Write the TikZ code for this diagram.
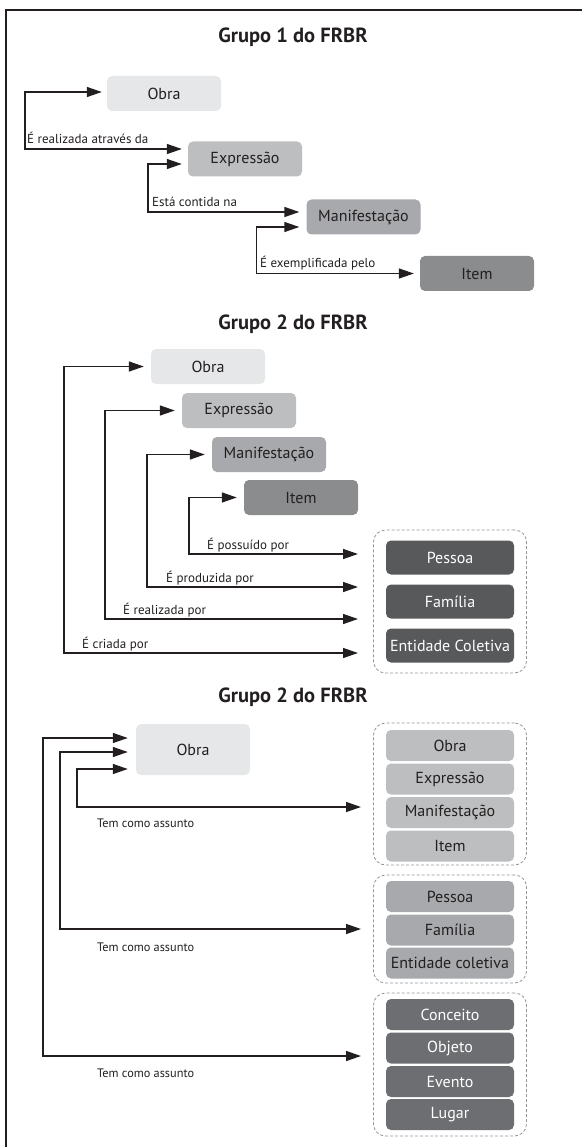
\documentclass[tikz,border=0pt]{standalone}
\usepackage{fontspec}
\setmainfont{PT Sans}
\usetikzlibrary{arrows.meta}

\definecolor{ink}{HTML}{231F20}
\definecolor{obrac}{HTML}{E6E7E8}
\definecolor{exprc}{HTML}{BCBEC0}
\definecolor{manic}{HTML}{A7A9AC}
\definecolor{itemc}{HTML}{8A8C8E}
\definecolor{agentc}{HTML}{58595B}
\definecolor{themec}{HTML}{6D6E71}
\definecolor{dashc}{HTML}{939598}

\tikzset{
  ent/.style={rounded corners=5pt, minimum width=114pt, minimum height=35pt,
    inner sep=0pt, text=ink, font=\fontsize{16}{19}\selectfont},
  sub/.style={rounded corners=5pt, minimum width=128pt, minimum height=31pt,
    inner sep=0pt, text=ink, font=\fontsize{16}{19}\selectfont},
  group/.style={draw=dashc, dash pattern=on 3pt off 2pt, line width=0.8pt,
    rounded corners=12pt, inner sep=0pt, minimum width=153pt},
  link/.style={draw=ink, line width=1.4pt,
    {Triangle[length=15pt,width=10pt]}-{Triangle[length=15pt,width=10pt]}},
  lbl/.style={anchor=base west, inner sep=0pt, text=ink, font=\fontsize{13}{15}\selectfont},
  lbls/.style={lbl, font=\fontsize{12.3}{14}\selectfont},
  heading/.style={text=ink, font=\fontsize{20.5}{24}\selectfont\bfseries},
  frame/.style={draw=ink, line width=1.6pt}
}

\begin{document}
\begin{tikzpicture}[x=1pt,y=-1pt]
\useasboundingbox (0,0) rectangle (581,1147);
\draw[frame] (590,10) -- (6,10) -- (6,1160);

% ---------- Grupo 1 ----------
\node[heading] (h1) at (293,37) {Grupo 1 do FRBR};
\node[ent, fill=obrac] (o1) at (164,93.5) {Obra};
\node[ent, fill=exprc] (e1) at (245,159) {Expressão};
\node[ent, fill=manic] (m1) at (363.5,217) {Manifestação};
\node[ent, fill=itemc] (i1) at (477,273.5) {Item};

\draw[link] ([xshift=-5pt,yshift=1.5pt]o1.west) -- ++(-77,0)
  |- ([xshift=-6pt,yshift=10pt]e1.west);
\node[lbl] (l1) at (27,144) {É realizada através da};
\draw[link] ([xshift=-6pt,yshift=-5pt]e1.west) -- ++(-34,0)
  |- ([xshift=-7pt,yshift=5pt]m1.west);
\node[lbl] (l2) at (152,207) {Está contida na};
\draw[link] ([xshift=-7pt,yshift=-10pt]m1.west) -- ++(-43,0)
  |- ([xshift=-6pt]i1.west);
\node[lbl] (l3) at (260,268) {É exemplificada pelo};

% ---------- Grupo 2 ----------
\node[heading] (h2) at (293,324) {Grupo 2 do FRBR};
\node[ent, fill=obrac] (o2) at (208,366.5) {Obra};
\node[ent, fill=exprc] (e2) at (239,410.5) {Expressão};
\node[ent, fill=manic] (m2) at (269,454.5) {Manifestação};
\node[ent, fill=itemc] (i2) at (301,497.5) {Item};

\node[group, minimum height=143pt] (c1) at (450,601.5) {};
\node[sub, fill=agentc, text=white, minimum height=34pt] (p1) at (450,557.5) {Pessoa};
\node[sub, fill=agentc, text=white, minimum height=34pt] (f1) at (450,601.5) {Família};
\node[sub, fill=agentc, text=white, minimum height=34pt] (k1) at (450,645.5) {Entidade Coletiva};

\coordinate (t1) at (358,554);
\coordinate (t2) at (358,587);
\coordinate (t3) at (358,619);
\coordinate (t4) at (358,653);

\draw[link] ([xshift=-7pt]i2.west) -- ++(-48,0) |- (t1);
\node[lbl] (l4) at (207,549) {É possuído por};
\draw[link] ([xshift=-7pt]m2.west) -- ++(-58,0) |- (t2);
\node[lbl] (l5) at (166,582) {É produzida por};
\draw[link] ([xshift=-7pt]e2.west) -- ++(-70,0) |- (t3);
\node[lbl] (l6) at (123,614) {É realizada por};
\draw[link] ([xshift=-7pt]o2.west) -- ++(-80,0) |- (t4);
\node[lbl] (l7) at (82,648) {É criada por};

% ---------- Grupo 2 (assuntos) ----------
\node[heading] (h3) at (293,697) {Grupo 2 do FRBR};
\node[ent, fill=obrac, minimum height=51pt] (o3) at (193,749.5) {Obra};

\node[group, minimum height=142pt] (c2) at (450,794) {};
\node[sub, fill=exprc] (s1) at (450,745.5) {Obra};
\node[sub, fill=exprc] (s2) at (450,779) {Expressão};
\node[sub, fill=exprc] (s3) at (450,812.5) {Manifestação};
\node[sub, fill=exprc] (s4) at (450,846) {Item};

\node[group, minimum height=108pt] (c3) at (450,929) {};
\node[sub, fill=manic] (s5) at (450,896.5) {Pessoa};
\node[sub, fill=manic] (s6) at (450,930) {Família};
\node[sub, fill=manic] (s7) at (450,963) {Entidade coletiva};

\node[group, minimum height=143pt] (c4) at (450,1064.5) {};
\node[sub, fill=themec, text=white] (s8) at (450,1014.5) {Conceito};
\node[sub, fill=themec, text=white] (s9) at (450,1048) {Objeto};
\node[sub, fill=themec, text=white] (s10) at (450,1081.5) {Evento};
\node[sub, fill=themec, text=white] (s11) at (450,1114.5) {Lugar};

\coordinate (u1) at (361,807);
\coordinate (u2) at (361,929);
\coordinate (u3) at (361,1056);

\draw[link] ([xshift=-8pt,yshift=-19.5pt]o3.west) -- ++(-51,0) |- (u1);
\node[lbls] (l8) at (97,827) {Tem como assunto};
\draw[link] ([xshift=-8pt,yshift=-2.5pt]o3.west) -- ++(-68,0) |- (u2);
\node[lbls] (l9) at (97,951) {Tem como assunto};
\draw[link] ([xshift=-8pt,yshift=11.5pt]o3.west) -- ++(-85,0) |- (u3);
\node[lbls] (l10) at (97,1077) {Tem como assunto};
\end{tikzpicture}
\end{document}
